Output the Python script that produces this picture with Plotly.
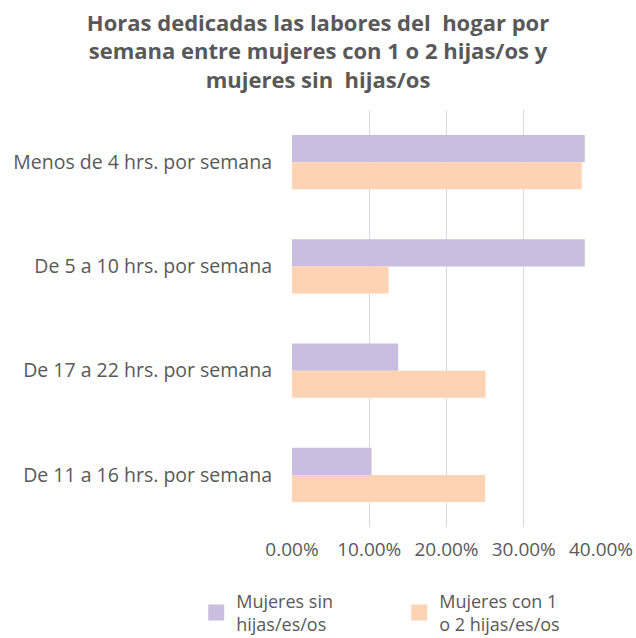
import plotly.graph_objects as go

categories = [
    'Menos de 4 hrs. por semana',
    'De 5 a 10 hrs. por semana',
    'De 17 a 22 hrs. por semana',
    'De 11 a 16 hrs. por semana',
]
sin_hijos = [0.379, 0.379, 0.1375, 0.103]
con_hijos = [0.375, 0.125, 0.2505, 0.250]
series_names = ['Mujeres sin<br>hijas/es/os', 'Mujeres con 1<br>o 2 hijas/es/os']
series_colors = ['#C9BEDD', '#FDD3B4']
tick_vals = [0, 0.1, 0.2, 0.3, 0.4]
tick_text = ['0.00%', '10.00%', '20.00%', '30.00%', '40.00%']

GRAY = '#595959'
FONT = 'Open Sans'

fig = go.Figure()
for vals, name, color in zip([sin_hijos, con_hijos], series_names, series_colors):
    fig.add_trace(go.Bar(y=categories, x=vals, orientation='h', name=name, showlegend=False,
                         marker=dict(color=color, line=dict(width=0))))
# legend entries with bigger square swatches
for name, color in zip(series_names, series_colors):
    fig.add_trace(go.Scatter(x=[None], y=[None], mode='markers', name=name,
                             marker=dict(symbol='square', size=16, color=color)))

fig.update_layout(
    width=636,
    height=638,
    paper_bgcolor='white',
    plot_bgcolor='white',
    barmode='group',
    bargap=0.48,
    bargroupgap=0,
    margin=dict(l=292, r=35, t=110, b=111, autoexpand=False),
    font=dict(family=FONT, color=GRAY, size=15),
    title=dict(
        text='<b>Horas dedicadas las labores del  hogar por<br>semana entre mujeres con 1 o 2 hijas/os y<br>mujeres sin  hijas/os</b>',
        font=dict(family=FONT, size=22, color=GRAY),
        x=0.5, xanchor='center', y=0.952, yanchor='top',
    ),
    legend=dict(
        orientation='h',
        x=-0.31, xanchor='left',
        y=-0.205, yanchor='middle',
        entrywidth=158,
        font=dict(family=FONT, size=18, color=GRAY),
        valign='middle',
    ),
    showlegend=True,
)
fig.update_xaxes(range=[0, 0.4], tickvals=tick_vals, ticktext=tick_text, automargin=False,
                 showgrid=True, gridcolor='#D9D9D9', gridwidth=1, zeroline=False,
                 showline=False, ticks='', tickfont=dict(size=19, color=GRAY), ticklabelstandoff=9)
fig.update_yaxes(autorange='reversed', showgrid=False, ticks='', showline=False, automargin=False,
                 tickfont=dict(size=19.5, color=GRAY), ticklabelstandoff=19)

fig.write_html('out.html', config={'displayModeBar': False},
               post_script="document.body.style.margin='0';")
